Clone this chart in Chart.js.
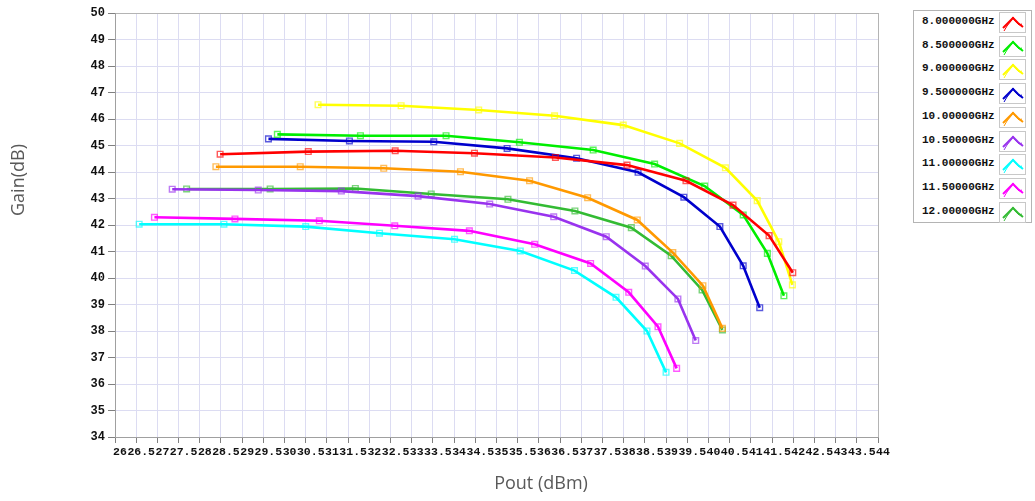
<!DOCTYPE html>
<html>
<head>
<meta charset="utf-8">
<script src="https://cdn.jsdelivr.net/npm/chart.js@4"></script>
<style>
  body { margin: 0; background: #fff; }
  #wrap { position: relative; width: 1035px; height: 501px; }
  #legend { position: absolute; left: 913px; top: 10px; width: 117px; height: 211px;
            border: 1px solid #b4b4b4; background: #fff; }
  .row { position: absolute; left: 8px; height: 20px; width: 106px; }
  .row span { position: absolute; left: 0; top: 3px; font: bold 11px "Liberation Mono", monospace; color: #111; }
  .row svg { position: absolute; left: 77px; top: 0; }
</style>
</head>
<body>
<div id="wrap">
  <canvas id="gainChart"></canvas>
  <div id="legend"></div>
</div>
<script>
const freqLabels = ['8.000000GHz', '8.500000GHz', '9.000000GHz', '9.500000GHz', '10.00000GHz',
                    '10.50000GHz', '11.00000GHz', '11.50000GHz', '12.00000GHz'];
const lineColors = ['#ff0000', '#00ee00', '#ffff00', '#0000cc', '#ff9900',
                    '#9933ee', '#00ffff', '#ff00ff', '#33bb33'];

// Pout (dBm) / Gain (dB) for each frequency
const pout8g0  = [28.48, 30.56, 32.61, 34.48, 36.39, 38.08, 39.47, 40.58, 41.43, 41.99];
const gain8g0  = [44.67, 44.77, 44.80, 44.71, 44.55, 44.26, 43.67, 42.75, 41.60, 40.20];
const pout8g5  = [29.83, 31.79, 33.81, 35.54, 37.28, 38.73, 39.91, 40.82, 41.39, 41.78];
const gain8g5  = [45.42, 45.37, 45.37, 45.12, 44.83, 44.30, 43.47, 42.38, 40.93, 39.33];
const pout9g0  = [30.79, 32.75, 34.58, 36.37, 37.99, 39.32, 40.40, 41.15, 41.66, 41.98];
const gain9g0  = [46.54, 46.50, 46.34, 46.12, 45.77, 45.08, 44.16, 42.92, 41.37, 39.74];
const pout9g5  = [29.62, 31.53, 33.52, 35.25, 36.89, 38.34, 39.42, 40.27, 40.82, 41.21];
const gain9g5  = [45.25, 45.17, 45.14, 44.89, 44.52, 43.99, 43.05, 41.94, 40.46, 38.88];
const pout10g0 = [28.38, 30.37, 32.34, 34.15, 35.78, 37.15, 38.32, 39.16, 39.87, 40.33];
const gain10g0 = [44.20, 44.20, 44.14, 44.01, 43.67, 43.03, 42.19, 40.96, 39.71, 38.10];
const pout10g5 = [27.35, 29.38, 31.34, 33.15, 34.84, 36.35, 37.59, 38.51, 39.28, 39.70];
const gain10g5 = [43.35, 43.32, 43.28, 43.09, 42.79, 42.31, 41.56, 40.45, 39.21, 37.64];
const pout11g0 = [26.57, 28.57, 30.50, 32.24, 34.01, 35.56, 36.84, 37.82, 38.55, 39.00];
const gain11g0 = [42.03, 42.03, 41.94, 41.69, 41.46, 41.02, 40.28, 39.27, 38.00, 36.44];
const pout11g5 = [26.93, 28.83, 30.82, 32.60, 34.36, 35.90, 37.22, 38.12, 38.81, 39.25];
const gain11g5 = [42.29, 42.23, 42.16, 41.97, 41.78, 41.27, 40.55, 39.46, 38.16, 36.59];
const pout12g0 = [27.69, 29.66, 31.67, 33.46, 35.27, 36.85, 38.18, 39.12, 39.85, 40.33];
const gain12g0 = [43.36, 43.36, 43.38, 43.17, 42.97, 42.53, 41.90, 40.84, 39.55, 38.04];

const poutSeries = [pout8g0, pout8g5, pout9g0, pout9g5, pout10g0, pout10g5, pout11g0, pout11g5, pout12g0];
const gainSeries = [gain8g0, gain8g5, gain9g0, gain9g5, gain10g0, gain10g5, gain11g0, gain11g5, gain12g0];

const xTitle = 'Pout (dBm)';
const yTitle = 'Gain(dB)';
const xMin = 26, xMax = 44, xStep = 0.5;
const yMin = 34, yMax = 50, yStep = 1;

function fade(hex, a) {
  const n = parseInt(hex.slice(1), 16);
  return `rgba(${n >> 16}, ${(n >> 8) & 255}, ${n & 255}, ${a})`;
}

const datasets = freqLabels.map((label, i) => ({
  label,
  data: poutSeries[i].map((x, k) => ({ x, y: gainSeries[i][k] })),
  borderColor: lineColors[i],
  borderWidth: 2.6,
  pointStyle: 'rect',
  pointRadius: 4,
  pointBorderWidth: 1.4,
  pointBackgroundColor: 'rgba(0,0,0,0)',
  pointBorderColor: fade(lineColors[i], 0.65),
  tension: 0,
  showLine: true
}));

const axisTitles = {
  id: 'axisTitles',
  afterDraw(c) {
    const ctx = c.ctx;
    ctx.save();
    ctx.fillStyle = '#595959';
    ctx.font = '18px "Open Sans"';
    ctx.textAlign = 'center';
    ctx.textBaseline = 'middle';
    ctx.fillText(xTitle, 541, 484);
    ctx.translate(19, 180);
    ctx.rotate(-Math.PI / 2);
    ctx.fillText(yTitle, 0, 0);
    ctx.restore();
  }
};

const xFont = { family: '"Liberation Mono", monospace', size: 11.5, weight: 'bold' };
const yFont = { family: '"Liberation Mono", monospace', size: 12, weight: 'bold' };

new Chart(document.getElementById('gainChart'), {
  type: 'scatter',
  data: { datasets },
  options: {
    responsive: true,
    maintainAspectRatio: false,
    animation: false,
    layout: { padding: { left: 0, right: 157, top: 13, bottom: 34 } },
    plugins: { legend: { display: false }, tooltip: { enabled: false } },
    scales: {
      x: {
        type: 'linear', min: xMin, max: xMax,
        afterFit: s => { s.height = 30; },
        afterBuildTicks: s => {
          s.ticks = [];
          for (let v = xMin; v <= xMax + 1e-9; v += xStep) s.ticks.push({ value: v });
        },
        border: { color: '#a0a0a0' },
        grid: {
          color: c => (c.tick && c.tick.value === xMax) ? '#b4b4b4' : '#dcdcf2',
          tickColor: '#808080', tickLength: 6
        },
        ticks: {
          autoSkip: false, maxRotation: 0, padding: 2, labelOffset: 5, color: '#111', font: xFont,
          callback: v => String(v)
        }
      },
      y: {
        type: 'linear', min: yMin, max: yMax,
        afterFit: s => { s.width = 115; },
        border: { color: '#a0a0a0' },
        grid: {
          color: c => (c.tick && c.tick.value === yMax) ? '#b4b4b4' : '#dcdcf2',
          tickColor: '#808080', tickLength: 7
        },
        ticks: { stepSize: yStep, autoSkip: false, padding: 3, color: '#111', font: yFont }
      }
    }
  },
  plugins: [axisTitles]
});

// legend box on the right
const legendBox = document.getElementById('legend');
freqLabels.forEach((label, i) => {
  const row = document.createElement('div');
  row.className = 'row';
  row.style.top = (1 + i * 23.7) + 'px';
  const col = lineColors[i];
  row.innerHTML = `<span>${label}</span>
    <svg width="27" height="21"><rect x="0.5" y="0.5" width="26" height="20" fill="#fff" stroke="#c8c8c8"/>
    <polyline points="4,16 9,11 14,6 19,11 24,15" fill="none" stroke="${col}" stroke-width="2"/>
    <polyline points="5,19 8,14 12,9 14,5 16,9 20,13 23,12" fill="none" stroke="${col}" stroke-width="1"/></svg>`;
  legendBox.appendChild(row);
});
</script>
</body>
</html>
